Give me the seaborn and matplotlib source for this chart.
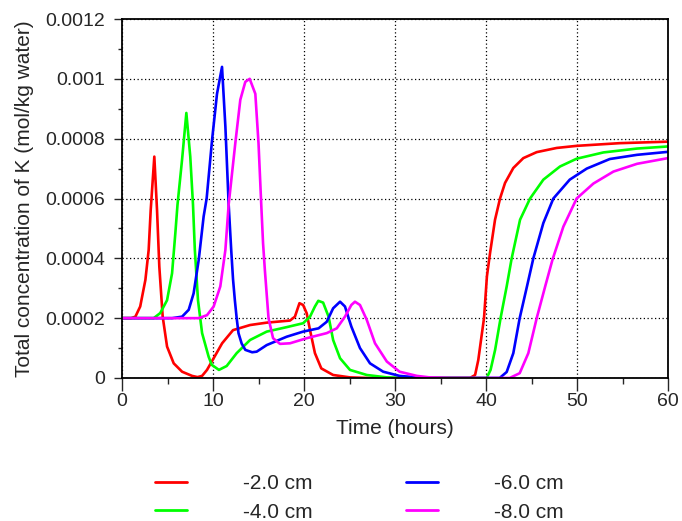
import pandas as pd
import matplotlib
matplotlib.use("Agg")
import matplotlib.pyplot as plt
from matplotlib.ticker import MultipleLocator
import seaborn as sns

# values (time in hours, K in mol/kg water)
t_r = [0, 1.0, 1.47, 2.0, 2.57, 2.93, 3.15, 3.55, 3.85, 4.1, 4.47, 4.95, 5.68, 6.6, 7.7, 8.3, 8.8, 9.34,
       10.07, 11.0, 12.2, 14.07, 15.9, 18.46, 19.0, 19.5, 19.9, 20.3, 20.66, 21.2, 21.9, 23.2, 25.05, 27,
       38.24, 38.8, 39.15, 39.5, 39.78, 40.1, 40.44, 40.99, 41.54, 42.09, 43.0, 44.1, 45.57, 47.77, 49.96,
       54.7, 60]
k_r = [0.0002, 0.0002, 0.000205, 0.000239, 0.000328, 0.000428, 0.00056, 0.00074, 0.00056, 0.000372,
       0.000205, 0.000105, 0.000049, 0.000021, 0.000007, 0.000003, 0.000007, 0.000027, 0.000066, 0.000116,
       0.00016, 0.000177, 0.000185, 0.000192, 0.000205, 0.00025, 0.000244, 0.000216, 0.00016, 0.000083,
       0.000032, 0.00001, 0.000002, 0, 0, 0.00001, 0.00006, 0.000138, 0.0002, 0.00034, 0.000417, 0.000529,
       0.0006, 0.000652, 0.000702, 0.000735, 0.000755, 0.000769, 0.000776, 0.000785, 0.00079]

t_g = [0, 3.48, 4.2, 4.95, 5.5, 5.86, 6.1, 6.6, 7.07, 7.5, 7.8, 8.0, 8.35, 8.8, 9.52, 9.86, 10.65, 11.5,
       12.6, 14.07, 15.9, 18.1, 19.9, 20.66, 21.2, 21.57, 22.1, 22.7, 23.2, 23.96, 25.05, 26.9, 29.1, 31,
       40.07, 40.5, 41.0, 41.6, 42.27, 42.82, 43.74, 44.84, 46.3, 48.13, 49.96, 52.9, 56.6, 60]
k_g = [0.0002, 0.0002, 0.000217, 0.00026, 0.00035, 0.000484, 0.00058, 0.00073, 0.000886, 0.00074, 0.00058,
       0.00043, 0.00026, 0.00015, 0.000071, 0.000044, 0.000027, 0.00004, 0.000083, 0.000127, 0.000155,
       0.00017, 0.000183, 0.000205, 0.000239, 0.000258, 0.000252, 0.000205, 0.000127, 0.000066, 0.000027,
       0.00001, 0.000002, 0, 0, 0.000027, 0.000094, 0.0002, 0.000306, 0.0004, 0.000529, 0.0006, 0.000663,
       0.000707, 0.000733, 0.000754, 0.000767, 0.000774]

t_b = [0, 5.5, 6.6, 7.33, 7.87, 8.43, 8.97, 9.3, 9.9, 10.44, 10.99, 11.36, 11.72, 12.0, 12.2, 12.4, 12.6,
       12.8, 13.15, 13.55, 14.3, 14.8, 15.9, 18.1, 19.9, 21.6, 22.5, 23.2, 23.96, 24.5, 25.2, 26.15, 27.25,
       28.7, 30.5, 32.4, 34, 41.5, 42.27, 43.0, 43.7, 44.5, 45.2, 46.3, 47.4, 49.2, 51.07, 53.6, 56.6, 60]
k_b = [0.0002, 0.0002, 0.000205, 0.000228, 0.000283, 0.000395, 0.00054, 0.0006, 0.000797, 0.00095, 0.00104,
       0.00084, 0.00058, 0.000428, 0.00033, 0.00026, 0.0002, 0.00015, 0.000115, 0.000094, 0.000086,
       0.000088, 0.00011, 0.000138, 0.000155, 0.000166, 0.000188, 0.000233, 0.000255, 0.000239, 0.000172,
       0.0001, 0.000049, 0.000021, 0.000007, 0.000002, 0, 0, 0.00002, 0.000083, 0.0002, 0.000306, 0.0004,
       0.000518, 0.0006, 0.000663, 0.0007, 0.000732, 0.000746, 0.000756]

t_m = [0, 8.43, 9.34, 10.07, 10.8, 11.36, 11.72, 12.45, 13.0, 13.55, 14.03, 14.65, 15.0, 15.3, 15.5, 15.7,
       16.1, 16.6, 17.36, 18.46, 20.3, 22.5, 23.6, 24.5, 25.2, 25.6, 26.15, 26.9, 27.8, 29.1, 30.5, 32.4,
       33.8, 36, 42.6, 43.7, 44.65, 45.57, 46.5, 47.3, 48.5, 49.96, 51.8, 54.0, 56.6, 60]
k_m = [0.0002, 0.0002, 0.00021, 0.000239, 0.000306, 0.000428, 0.00058, 0.000785, 0.00093, 0.00099, 0.001,
       0.00095, 0.000785, 0.00058, 0.00045, 0.00036, 0.0002, 0.000133, 0.000114, 0.000116, 0.000133,
       0.00015, 0.000166, 0.000205, 0.000244, 0.000255, 0.000244, 0.000194, 0.000116, 0.000055, 0.000021,
       0.000007, 0.000002, 0, 0, 0.000016, 0.000083, 0.0002, 0.000306, 0.000395, 0.000506, 0.0006, 0.00065,
       0.00069, 0.000716, 0.000735]

depths = ["-2.0 cm", "-4.0 cm", "-6.0 cm", "-8.0 cm"]
colors = ["#ff0000", "#00ff00", "#0000ff", "#ff00ff"]
series = [(t_r, k_r), (t_g, k_g), (t_b, k_b), (t_m, k_m)]

frames = []
for name, (t, k) in zip(depths, series):
    frames.append(pd.DataFrame({"Time": t, "K": k, "depth": name}))
df = pd.concat(frames, ignore_index=True)

sns.set_style("ticks")
plt.rcParams["font.family"] = ["Liberation Sans", "DejaVu Sans"]

fig = plt.figure(figsize=(6.82, 5.21), dpi=100)
ax = fig.add_axes([0.1789, 0.2745, 0.8006, 0.689])

sns.lineplot(data=df, x="Time", y="K", hue="depth", hue_order=depths,
             palette=dict(zip(depths, colors)), estimator=None, sort=False,
             linewidth=1.9, ax=ax, legend=False)

ax.set_xlim(0, 60)
ax.set_ylim(0, 0.0012)
ax.xaxis.set_major_locator(MultipleLocator(10))
ax.xaxis.set_minor_locator(MultipleLocator(5))
ax.yaxis.set_minor_locator(MultipleLocator(0.0001))
ax.set_yticks([0, 0.0002, 0.0004, 0.0006, 0.0008, 0.001, 0.0012])
ax.set_yticklabels(["0", "0.0002", "0.0004", "0.0006", "0.0008", "0.001", "0.0012"])
ax.tick_params(axis="y", which="major", direction="out", length=5.5, width=1, pad=6.5, labelsize=14)
ax.tick_params(axis="y", which="minor", direction="out", length=3, width=1)
ax.tick_params(axis="x", which="major", direction="out", length=9, width=1, pad=1.5, labelsize=14)
ax.tick_params(axis="x", which="minor", direction="out", length=4.5, width=1)
ax.grid(True, which="major", color="black", linestyle=(0, (1, 2)), linewidth=0.9)
for sp in ax.spines.values():
    sp.set_visible(True)
    sp.set_color("black")
    sp.set_linewidth(1.3)

ax.set_xlabel("Time (hours)", fontsize=15, labelpad=7)
ax.set_ylabel("Total concentration of K (mol/kg water)", fontsize=15, labelpad=8)

handles = [plt.Line2D([], [], color=c, linewidth=2) for c in colors]
fig.legend(handles, depths, loc="center", bbox_to_anchor=(0.527, 0.044), ncol=2,
           frameon=False, fontsize=15, handlelength=1.5, handletextpad=2.7,
           columnspacing=4.5, labelspacing=0.45)

fig.savefig("out.png", dpi=100)
